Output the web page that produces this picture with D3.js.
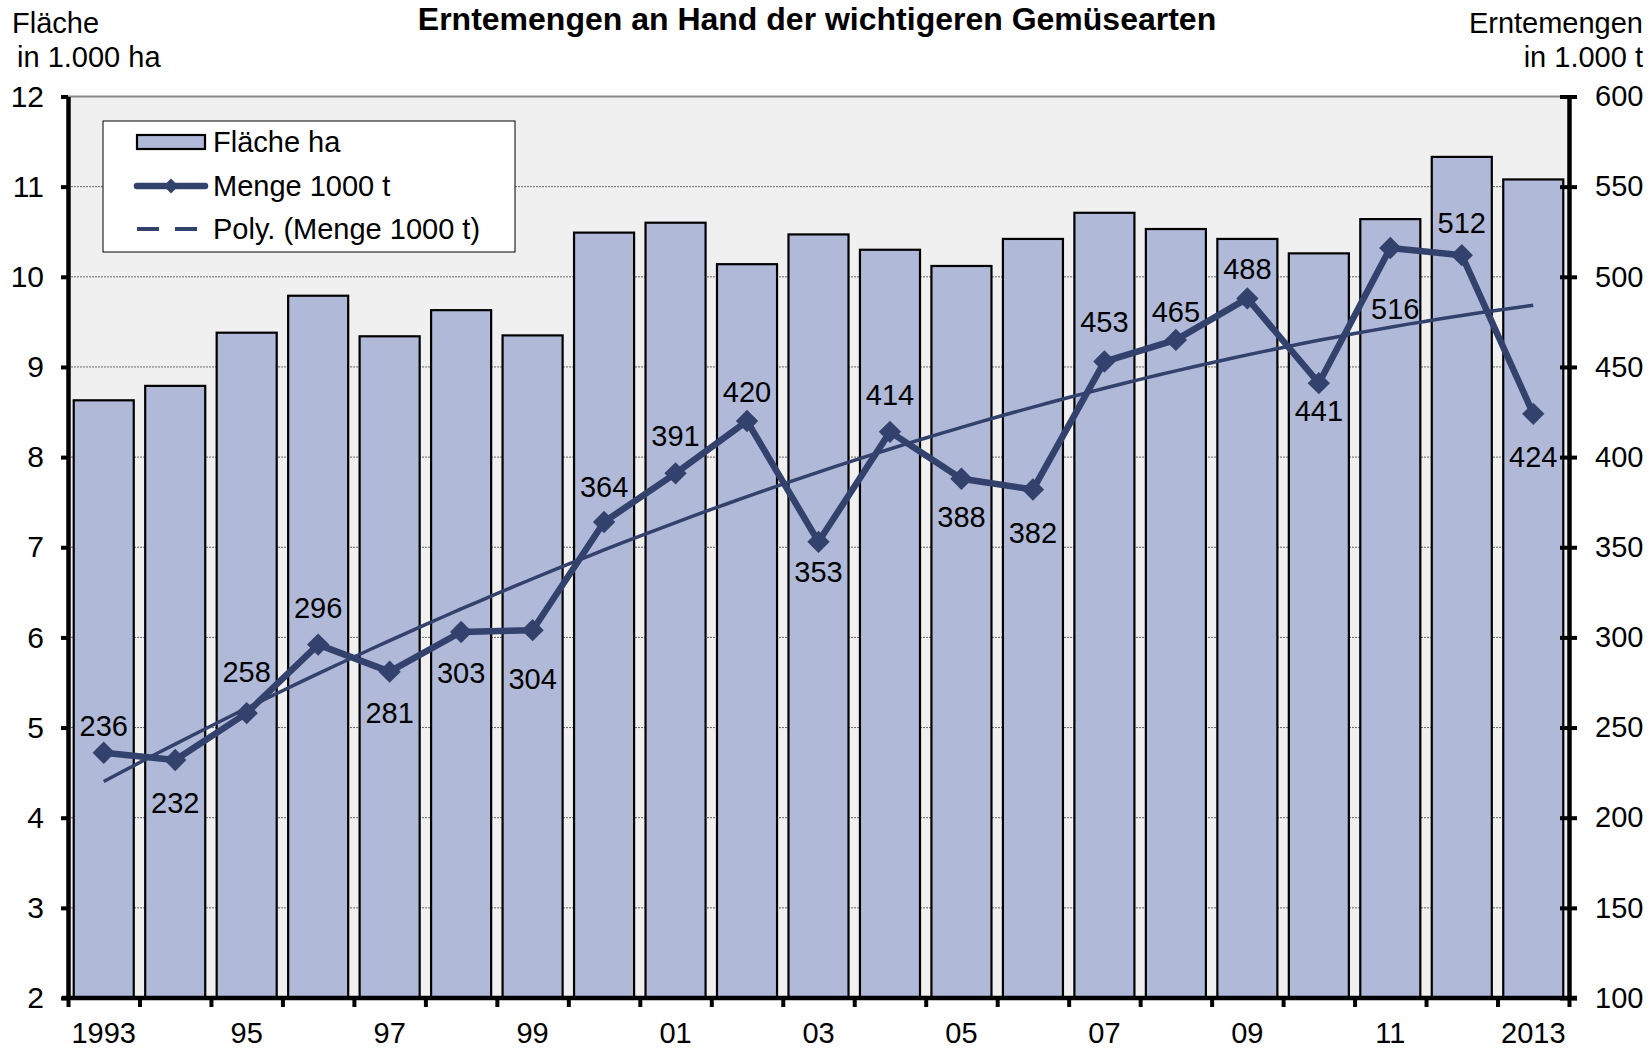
<!DOCTYPE html>
<html>
<head>
<meta charset="utf-8">
<script src="https://cdn.jsdelivr.net/npm/d3@7"></script>
<style>
    body { margin: 0; background: #fff; }
    svg text { font-family: "Liberation Sans", Arial, sans-serif; fill: #000; }
</style>
</head>
<body>
<div class="chart-content"></div>
<script>
// Jahre und Werte
let years = ['1993', '1994', '1995', '1996', '1997', '1998', '1999', '2000', '2001', '2002', '2003',
    '2004', '2005', '2006', '2007', '2008', '2009', '2010', '2011', '2012', '2013'];
let yearLabels = ['1993', '', '95', '', '97', '', '99', '', '01', '', '03',
    '', '05', '', '07', '', '09', '', '11', '', '2013'];
let flaeche = [8.63, 8.79, 9.38, 9.79, 9.34, 9.63, 9.35, 10.49, 10.60, 10.14, 10.47,
    10.30, 10.12, 10.42, 10.71, 10.53, 10.42, 10.26, 10.64, 11.33, 11.08];
let menge = [236, 232, 258, 296, 281, 303, 304, 364, 391, 420, 353,
    414, 388, 382, 453, 465, 488, 441, 516, 512, 424];
let leftTicks = [2, 3, 4, 5, 6, 7, 8, 9, 10, 11, 12];
let rightTicks = [100, 150, 200, 250, 300, 350, 400, 450, 500, 550, 600];
// Verschiebung der Datenbeschriftungen (px, wie im Original von Hand gesetzt)
let labelDy = [-27, 43, -41, -37, 41, 41, 49, -35, -37, -29, 30,
    -37, 38, 43, -40, -28, -30, 28, 61, -32, 43];
let labelDx = [0, 0, 0, 0, 0, 0, 0, 0, 0, 0, 0, 0, 0, 0, 0, 0, 0, 0, 5, 0, 0];

let w = 1649;
let h = 1051;
let pLeft = 68, pRight = 1569, pTop = 96.5, pBottom = 998;
let navy = '#33416d';

let svg = d3.select('.chart-content')
    .append('svg')
    .attr('width', w)
    .attr('height', h);

let x = d3.scaleBand().domain(years).range([pLeft, pRight]).paddingInner(0.16).paddingOuter(0.08);
let xb = d3.scaleLinear().domain([0, years.length]).range([pLeft, pRight]);
let yL = d3.scaleLinear().domain([2, 12]).range([pBottom, pTop]);
let yR = d3.scaleLinear().domain([100, 600]).range([pBottom, pTop]);

// Zeichenfläche
svg.append('rect')
    .attr('x', pLeft).attr('y', pTop)
    .attr('width', pRight - pLeft).attr('height', pBottom - pTop)
    .attr('fill', '#f0f0f0');

// Gitterlinien
svg.append('g')
    .selectAll('line')
    .data(leftTicks.slice(1))
    .enter()
    .append('line')
    .attr('x1', pLeft).attr('x2', pRight)
    .attr('y1', function(d) {return yL(d)})
    .attr('y2', function(d) {return yL(d)})
    .attr('stroke', function(d) {return d === 12 ? '#8a8a8a' : '#666'})
    .attr('stroke-width', function(d) {return d === 12 ? 2 : 1})
    .attr('stroke-dasharray', function(d) {return d === 12 ? null : '2,1'});

// Balken
svg.append('g')
    .selectAll('rect')
    .data(flaeche)
    .enter()
    .append('rect')
    .attr('x', function(d, i) {return x(years[i])})
    .attr('y', function(d) {return yL(d)})
    .attr('width', x.bandwidth())
    .attr('height', function(d) {return yL(2) - yL(d)})
    .attr('fill', '#b0b9d8')
    .attr('stroke', '#000')
    .attr('stroke-width', 2.2);

// Trendlinie (Polynom 2. Grades, kleinste Quadrate)
function polyFit(ys) {
    let s = [0, 0, 0, 0, 0], t = [0, 0, 0];
    ys.forEach(function(v, i) {
        let xi = i + 1;
        for (let k = 0; k < 5; k++) s[k] += Math.pow(xi, k);
        for (let k = 0; k < 3; k++) t[k] += v * Math.pow(xi, k);
    });
    let m = [[s[0], s[1], s[2], t[0]], [s[1], s[2], s[3], t[1]], [s[2], s[3], s[4], t[2]]];
    for (let c = 0; c < 3; c++) {
        for (let r = c + 1; r < 3; r++) {
            let f = m[r][c] / m[c][c];
            for (let k = c; k < 4; k++) m[r][k] -= f * m[c][k];
        }
    }
    let a = [0, 0, 0];
    for (let r = 2; r >= 0; r--) {
        let sum = m[r][3];
        for (let k = r + 1; k < 3; k++) sum -= m[r][k] * a[k];
        a[r] = sum / m[r][r];
    }
    return function(xi) {return a[0] + a[1] * xi + a[2] * xi * xi;};
}
let trend = polyFit(menge);
let trendPts = d3.range(0, years.length - 1 + 0.001, 0.25);
let cx = function(i) {return x(years[0]) + x.bandwidth() / 2 + i * x.step();};

svg.append('path')
    .datum(trendPts)
    .attr('d', d3.line()
        .x(function(d) {return cx(d)})
        .y(function(d) {return yR(trend(d + 1))}))
    .attr('fill', 'none')
    .attr('stroke', navy)
    .attr('stroke-width', 3.5);

// Mengenlinie
svg.append('path')
    .datum(menge)
    .attr('d', d3.line()
        .x(function(d, i) {return x(years[i]) + x.bandwidth() / 2})
        .y(function(d) {return yR(d)}))
    .attr('fill', 'none')
    .attr('stroke', navy)
    .attr('stroke-width', 6.5)
    .attr('stroke-linejoin', 'round');

let diamond = d3.symbol().type(d3.symbolSquare).size(250);
svg.append('g')
    .selectAll('path')
    .data(menge)
    .enter()
    .append('path')
    .attr('d', diamond)
    .attr('transform', function(d, i) {
        return 'translate(' + (x(years[i]) + x.bandwidth() / 2) + ',' + yR(d) + ') rotate(45)';
    })
    .attr('fill', navy);

svg.append('g')
    .selectAll('text')
    .data(menge)
    .enter()
    .append('text')
    .attr('x', function(d, i) {return x(years[i]) + x.bandwidth() / 2 + labelDx[i]})
    .attr('y', function(d, i) {return yR(d) + labelDy[i]})
    .attr('dy', '0.35em')
    .attr('text-anchor', 'middle')
    .attr('font-size', '29px')
    .text(function(d) {return d;});

// Achsen
let yAxisL = d3.axisLeft(yL).tickValues(leftTicks).tickSize(7).tickSizeOuter(0).tickPadding(17);
let gL = svg.append('g').attr('transform', 'translate(' + pLeft + ',0)').call(yAxisL);

let yAxisR = d3.axisRight(yR).tickValues(rightTicks).tickSize(8).tickSizeOuter(0).tickPadding(18);
let gR = svg.append('g').attr('transform', 'translate(' + pRight + ',0)').call(yAxisR);
gR.selectAll('.tick line').attr('x1', -9);

let xTicks = d3.axisBottom(xb).tickValues(d3.range(years.length + 1)).tickSize(9).tickSizeOuter(0).tickFormat('');
let gX = svg.append('g').attr('transform', 'translate(0,' + pBottom + ')').call(xTicks);
gX.select('.domain').attr('d', 'M' + (pLeft - 6) + ',0H' + (pRight + 8));

let xLabels = d3.axisBottom(x).tickSize(0).tickPadding(45).tickFormat(function(d, i) {return yearLabels[i];});
let gXL = svg.append('g').attr('transform', 'translate(0,' + pBottom + ')').call(xLabels);
gXL.select('.domain').remove();

[gL, gR, gX].forEach(function(g) {
    g.select('.domain').attr('stroke', '#000').attr('stroke-width', 4.5);
    g.selectAll('.tick line').attr('stroke', '#000').attr('stroke-width', 4);
});
gL.selectAll('.tick text').attr('font-size', '30px');
gR.selectAll('.tick text').attr('font-size', '29px');
gXL.selectAll('.tick text').attr('font-size', '29px').attr('dy', '0');

// Titel und Achsentitel
svg.append('text')
    .attr('x', 817).attr('y', 30)
    .attr('text-anchor', 'middle')
    .attr('font-size', '32px')
    .attr('font-weight', 'bold')
    .text('Erntemengen an Hand der wichtigeren Gemüsearten');

svg.append('text').attr('x', 12).attr('y', 33).attr('font-size', '29px').text('Fläche');
svg.append('text').attr('x', 17).attr('y', 67).attr('font-size', '29px').text('in 1.000 ha');
svg.append('text').attr('x', 1643).attr('y', 33).attr('text-anchor', 'end').attr('font-size', '29px').text('Erntemengen');
svg.append('text').attr('x', 1643).attr('y', 67).attr('text-anchor', 'end').attr('font-size', '29px').text('in 1.000 t');

// Legende
let lg = svg.append('g');
lg.append('rect')
    .attr('x', 103).attr('y', 121)
    .attr('width', 412).attr('height', 131)
    .attr('fill', '#fff')
    .attr('stroke', '#000')
    .attr('stroke-width', 1);

let legendItems = ['Fläche ha', 'Menge 1000 t', 'Poly. (Menge 1000 t)'];
let ly = [142, 186, 229];

lg.append('rect')
    .attr('x', 137).attr('y', ly[0] - 7)
    .attr('width', 68).attr('height', 14)
    .attr('fill', '#b0b9d8')
    .attr('stroke', '#000')
    .attr('stroke-width', 2.2);
lg.append('line')
    .attr('x1', 137).attr('x2', 205)
    .attr('y1', ly[1]).attr('y2', ly[1])
    .attr('stroke', navy)
    .attr('stroke-width', 6.5)
    .attr('stroke-linecap', 'round');
lg.append('path')
    .attr('d', d3.symbol().type(d3.symbolSquare).size(110))
    .attr('transform', 'translate(171,' + ly[1] + ') rotate(45)')
    .attr('fill', navy);
lg.append('line')
    .attr('x1', 137).attr('x2', 205)
    .attr('y1', ly[2]).attr('y2', ly[2])
    .attr('stroke', navy)
    .attr('stroke-width', 4)
    .attr('stroke-dasharray', '22,16');

lg.selectAll('.legend-text')
    .data(legendItems)
    .enter()
    .append('text')
    .attr('x', 213)
    .attr('y', function(d, i) {return ly[i]})
    .attr('dy', '0.35em')
    .attr('font-size', '29px')
    .text(function(d) {return d;});
</script>
</body>
</html>
